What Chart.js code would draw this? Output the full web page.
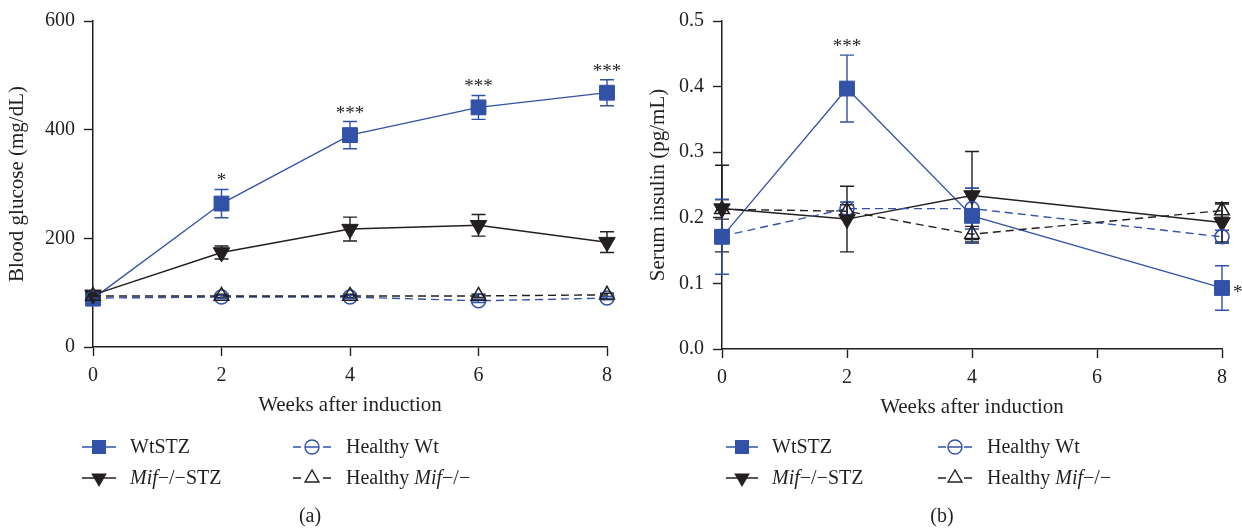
<!DOCTYPE html>
<html>
<head>
<meta charset="utf-8">
<script src="https://cdn.jsdelivr.net/npm/chart.js@4.4.1/dist/chart.umd.min.js"></script>
<style>
  html, body { margin: 0; padding: 0; background: #ffffff; }
  #wrap { position: relative; width: 1242px; height: 531px; overflow: hidden; }
  .panel { position: absolute; top: 0; width: 621px; height: 531px; }
  #pa { left: 0; }
  #pb { left: 621px; }
</style>
</head>
<body>
<div id="wrap">
  <div class="panel" id="pa"><canvas id="ca" width="621" height="531"></canvas></div>
  <div class="panel" id="pb"><canvas id="cb" width="621" height="531"></canvas></div>
</div>
<script>
// ---- Panel (a): blood glucose (mg/dL) ----
const weeksA = [0, 2, 4, 6, 8];
const glucoseWtSTZ = [89, 264, 390, 441, 468];
const glucoseWtSTZErr = [6, 26, 25, 22, 24];
const glucoseMifSTZ = [96, 174, 217, 224, 193];
const glucoseMifSTZErr = [6, 12, 22, 20, 19];
const glucoseHealthyWt = [90, 92, 92, 85, 90];
const glucoseHealthyWtErr = [3, 3, 3, 3, 3];
const glucoseHealthyMif = [94, 94, 94, 94, 96];
const glucoseHealthyMifErr = [3, 3, 3, 3, 3];
const glucoseTicks = [0, 200, 400, 600];
const starWeeksA = [2, 4, 6, 8];
const starLabelsA = ['*', '***', '***', '***'];

// ---- Panel (b): serum insulin (pg/mL) ----
const weeksB = [0, 2, 4, 8];
const insulinWtSTZ = [0.171, 0.397, 0.203, 0.093];
const insulinWtSTZErr = [0.057, 0.051, 0.042, 0.034];
const insulinMifSTZ = [0.214, 0.198, 0.234, 0.193];
const insulinMifSTZErr = [0.066, 0.050, 0.067, 0.030];
const insulinHealthyWt = [0.172, 0.214, 0.214, 0.171];
const insulinHealthyWtErr = [0.010, 0.010, 0.031, 0.010];
const insulinHealthyMif = [0.213, 0.210, 0.175, 0.211];
const insulinHealthyMifErr = [0.015, 0.010, 0.012, 0.010];
const insulinTicks = [0, 0.1, 0.2, 0.3, 0.4, 0.5];
const starWeeksB = [2, 8];
const starLabelsB = ['***', '*'];
const starSidesB = ['above', 'right'];

const weekTicks = [0, 2, 4, 6, 8];
const seriesNames = ['WtSTZ', 'Mif−/−STZ', 'Healthy Wt', 'Healthy Mif−/−'];

const INK = '#231f20';
const BLUE = '#3152a6';
const FONT = '"Liberation Serif", "DejaVu Serif", serif';
const TXT = 20;

Chart.defaults.font.family = FONT;
Chart.defaults.font.size = TXT;
Chart.defaults.color = INK;

const pts = (xs, ys) => xs.map((x, i) => ({ x: x, y: ys[i] }));

function makeDatasets(xs, wt, wtE, mif, mifE, hwt, hwtE, hmif, hmifE) {
  return [
    { label: seriesNames[3], data: pts(xs, hmif), errors: hmifE, clip: false,
      borderColor: INK, borderWidth: 1.4, borderDash: [8, 5],
      pointStyle: 'triangle', pointRadius: 8.5, pointBorderWidth: 1.5,
      pointBackgroundColor: 'rgba(0,0,0,0)', pointBorderColor: INK },
    { label: seriesNames[2], data: pts(xs, hwt), errors: hwtE, clip: false,
      borderColor: BLUE, borderWidth: 1.4, borderDash: [8, 5],
      pointStyle: 'circle', pointRadius: 7, pointBorderWidth: 1.5,
      pointBackgroundColor: 'rgba(0,0,0,0)', pointBorderColor: BLUE },
    { label: seriesNames[1], data: pts(xs, mif), errors: mifE, clip: false,
      borderColor: INK, borderWidth: 1.5,
      pointStyle: 'triangle', pointRotation: 180, pointRadius: 9.5, pointBorderWidth: 1,
      pointBackgroundColor: INK, pointBorderColor: INK },
    { label: seriesNames[0], data: pts(xs, wt), errors: wtE, clip: false,
      borderColor: BLUE, borderWidth: 1.3,
      pointStyle: 'rect', pointRadius: 10.5, pointBorderWidth: 1,
      pointBackgroundColor: BLUE, pointBorderColor: BLUE }
  ];
}

// Vertical error bars with caps, drawn beneath the markers
const errorBars = {
  id: 'errorBars',
  beforeDatasetsDraw(chart) {
    const { ctx, scales: { x, y } } = chart;
    chart.data.datasets.forEach((ds) => {
      if (!ds.errors) return;
      ctx.save();
      ctx.strokeStyle = ds.borderColor;
      ctx.lineWidth = 1.4;
      ctx.setLineDash([]);
      ds.data.forEach((p, j) => {
        const e = ds.errors[j];
        const px = x.getPixelForValue(p.x);
        const top = y.getPixelForValue(p.y + e);
        const bot = y.getPixelForValue(p.y - e);
        ctx.beginPath();
        ctx.moveTo(px, top); ctx.lineTo(px, bot);
        ctx.moveTo(px - 7, top); ctx.lineTo(px + 7, top);
        ctx.moveTo(px - 7, bot); ctx.lineTo(px + 7, bot);
        ctx.stroke();
      });
      ctx.restore();
    });
  }
};

// Significance asterisks placed from the WtSTZ means and errors
const stars = {
  id: 'stars',
  afterDatasetsDraw(chart, args, opts) {
    if (!opts.items) return;
    const { ctx, scales: { x, y } } = chart;
    ctx.save();
    ctx.fillStyle = INK;
    ctx.font = '19px ' + FONT;
    ctx.textBaseline = 'alphabetic';
    opts.items.forEach((it) => {
      const px = x.getPixelForValue(it.x);
      if (it.side === 'right') {
        ctx.textAlign = 'left';
        ctx.fillText(it.text, px + 11, y.getPixelForValue(it.y) + 10);
      } else {
        ctx.textAlign = 'center';
        ctx.fillText(it.text, px, y.getPixelForValue(it.y + it.err) - 3);
      }
    });
    ctx.restore();
  }
};

function drawMarker(ctx, kind, cx, cy) {
  ctx.save();
  ctx.setLineDash([]);
  if (kind === 0) {
    ctx.fillStyle = BLUE;
    ctx.fillRect(cx - 7, cy - 7, 14, 14);
  } else if (kind === 1) {
    const r = 9;
    ctx.fillStyle = INK;
    ctx.beginPath();
    ctx.moveTo(cx, cy + r);
    ctx.lineTo(cx - r * 0.866, cy - r / 2);
    ctx.lineTo(cx + r * 0.866, cy - r / 2);
    ctx.closePath();
    ctx.fill();
  } else if (kind === 2) {
    ctx.strokeStyle = BLUE;
    ctx.lineWidth = 1.4;
    ctx.beginPath();
    ctx.arc(cx, cy, 7, 0, Math.PI * 2);
    ctx.stroke();
  } else {
    const r = 8;
    ctx.strokeStyle = INK;
    ctx.lineWidth = 1.4;
    ctx.beginPath();
    ctx.moveTo(cx, cy - r);
    ctx.lineTo(cx - r * 0.866, cy + r / 2);
    ctx.lineTo(cx + r * 0.866, cy + r / 2);
    ctx.closePath();
    ctx.stroke();
  }
  ctx.restore();
}

function drawRichText(ctx, parts, x, y) {
  let cx = x;
  parts.forEach((p) => {
    ctx.font = (p.it ? 'italic ' : '') + TXT + 'px ' + FONT;
    ctx.fillText(p.t, cx, y);
    cx += ctx.measureText(p.t).width;
  });
}

// Two-column key under the plot, plus the panel caption
const keyBox = {
  id: 'keyBox',
  afterDraw(chart, args, o) {
    const ctx = chart.ctx;
    const labelParts = [
      [{ t: seriesNames[0] }],
      [{ t: 'Mif', it: true }, { t: '−/−STZ' }],
      [{ t: 'Healthy Wt' }],
      [{ t: 'Healthy ' }, { t: 'Mif', it: true }, { t: '−/−' }]
    ];
    const slots = [[0, 0], [0, 1], [1, 0], [1, 1]];
    ctx.save();
    ctx.textBaseline = 'middle';
    ctx.textAlign = 'left';
    ctx.fillStyle = INK;
    slots.forEach(([c, r], k) => {
      const col = o.cols[c];
      const yy = o.rows[r];
      const cx = (col.x0 + col.x1) / 2;
      const color = (k === 0 || k === 2) ? BLUE : INK;
      ctx.strokeStyle = color;
      ctx.lineWidth = 1.5;
      ctx.beginPath();
      if (k < 2) {
        ctx.moveTo(col.x0, yy); ctx.lineTo(col.x1, yy);
      } else {
        ctx.moveTo(col.x0, yy); ctx.lineTo(col.x0 + 8, yy);
        ctx.moveTo(col.x1 - 8, yy); ctx.lineTo(col.x1, yy);
        if (k === 2) { ctx.moveTo(cx - 7, yy); ctx.lineTo(cx + 7, yy); }
      }
      ctx.stroke();
      drawMarker(ctx, k, cx, yy);
      ctx.fillStyle = INK;
      drawRichText(ctx, labelParts[k], col.tx, yy + 1);
    });
    ctx.font = TXT + 'px ' + FONT;
    ctx.textAlign = 'center';
    ctx.fillText(o.caption, o.capX, o.capY);
    ctx.restore();
  }
};

function axisCommon(ticksList, fmt, title, yWidth) {
  return {
    x: {
      type: 'linear', min: 0, max: 8,
      afterBuildTicks: (s) => { s.ticks = weekTicks.map((v) => ({ value: v })); },
      ticks: { padding: 8, font: { size: TXT }, color: INK },
      grid: { display: true, drawOnChartArea: false, drawTicks: true, tickLength: 9, tickWidth: 1.4, tickColor: INK },
      border: { display: true, color: INK, width: 1.5 },
      title: { display: true, text: 'Weeks after induction', font: { size: 21 }, color: INK, padding: { top: 4, bottom: 4 } },
      afterFit: (s) => { s.height = 75; }
    },
    y: {
      type: 'linear', min: ticksList[0], max: ticksList[ticksList.length - 1],
      afterBuildTicks: (s) => { s.ticks = ticksList.map((v) => ({ value: v })); },
      ticks: { padding: 9, font: { size: TXT }, color: INK, callback: fmt },
      grid: { display: true, drawOnChartArea: false, drawTicks: true, tickLength: 9, tickWidth: 1.4, tickColor: INK },
      border: { display: true, color: INK, width: 1.5 },
      title: { display: true, text: title, font: { size: 21 }, color: INK, padding: { top: 5, bottom: 4 } },
      afterFit: (s) => { s.width = yWidth; }
    }
  };
}

new Chart(document.getElementById('ca'), {
  type: 'line',
  data: {
    datasets: makeDatasets(weeksA, glucoseWtSTZ, glucoseWtSTZErr, glucoseMifSTZ, glucoseMifSTZErr,
      glucoseHealthyWt, glucoseHealthyWtErr, glucoseHealthyMif, glucoseHealthyMifErr)
  },
  options: {
    responsive: false, animation: false,
    layout: { padding: { left: 0, right: 14, top: 16, bottom: 109 } },
    elements: { line: { tension: 0, fill: false } },
    scales: axisCommon(glucoseTicks, (v) => String(v), 'Blood glucose (mg/dL)', 93),
    plugins: {
      legend: { display: false }, tooltip: { enabled: false },
      stars: {
        items: starWeeksA.map((w, i) => {
          const j = weeksA.indexOf(w);
          return { x: w, y: glucoseWtSTZ[j], err: glucoseWtSTZErr[j], text: starLabelsA[i], side: 'above' };
        })
      },
      keyBox: {
        rows: [447, 478],
        cols: [{ x0: 82, x1: 116, tx: 130 }, { x0: 293, x1: 331, tx: 346 }],
        caption: '(a)', capX: 310, capY: 517
      }
    }
  },
  plugins: [errorBars, stars, keyBox]
});

new Chart(document.getElementById('cb'), {
  type: 'line',
  data: {
    datasets: makeDatasets(weeksB, insulinWtSTZ, insulinWtSTZErr, insulinMifSTZ, insulinMifSTZErr,
      insulinHealthyWt, insulinHealthyWtErr, insulinHealthyMif, insulinHealthyMifErr)
  },
  options: {
    responsive: false, animation: false,
    layout: { padding: { left: 20, right: 20, top: 19, bottom: 107 } },
    elements: { line: { tension: 0, fill: false } },
    scales: axisCommon(insulinTicks, (v) => v.toFixed(1), 'Serum insulin (pg/mL)', 81),
    plugins: {
      legend: { display: false }, tooltip: { enabled: false },
      stars: {
        items: starWeeksB.map((w, i) => {
          const j = weeksB.indexOf(w);
          return { x: w, y: insulinWtSTZ[j], err: insulinWtSTZErr[j], text: starLabelsB[i], side: starSidesB[i] };
        })
      },
      keyBox: {
        rows: [447, 478],
        cols: [{ x0: 105, x1: 137, tx: 151 }, { x0: 317, x1: 351, tx: 366 }],
        caption: '(b)', capX: 321, capY: 517
      }
    }
  },
  plugins: [errorBars, stars, keyBox]
});
</script>
</body>
</html>
